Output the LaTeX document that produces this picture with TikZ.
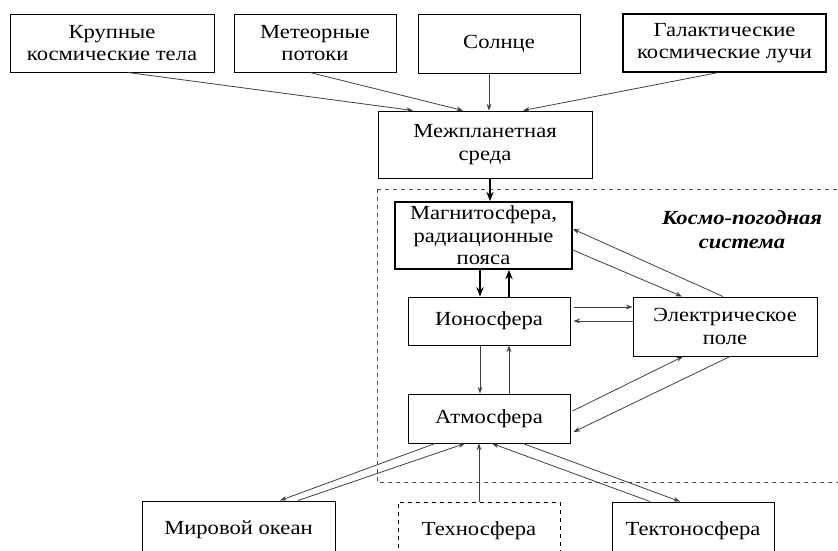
\documentclass[tikz,border=0pt]{standalone}
\usepackage{fontspec}
\setmainfont{Liberation Serif}[FakeStretch=1.13]
\usetikzlibrary{arrows.meta,calc}

\tikzset{every picture/.style={line width=0.75pt}}
\tikzset{
  blk/.style={draw, rectangle, inner sep=0pt, align=center, font=\fontsize{15}{16.8}\selectfont},
  conn/.style={draw=black!75, line width=0.6pt, -{Stealth[length=5pt,width=3.6pt]}},
  bold conn/.style={draw=black, line width=1.3pt, -{Stealth[length=7pt,width=5.5pt]}}
}

\begin{document}
\begin{tikzpicture}[x=0.75pt,y=0.75pt,yscale=-1,xscale=1]
\useasboundingbox (0,0) rectangle (838,550);

% Dashed frame
\draw [dashed, draw=black!70, line width=0.6pt] (377,189) -- (845,189) (377,189) -- (377,482) -- (845,482);

% Text Node
\node [blk, minimum width=153pt, minimum height=43.5pt] (krup) at (112,43) {Крупные\\космические тела};
% Text Node
\node [blk, minimum width=121.5pt, minimum height=43.5pt] (meteor) at (315,43) {Метеорные\\потоки};
% Text Node
\node [blk, minimum width=121.5pt, minimum height=44.25pt] (sun) at (499,43.5) {Солнце};
% Text Node
\node [blk, line width=1.2pt, minimum width=152.25pt, minimum height=43.5pt] (galact) at (724.5,43) {Галактические\\космические лучи};
% Text Node
\node [blk, minimum width=160.5pt, minimum height=50.25pt] (inter) at (485,144.5) {Межпланетная\\среда};
% Text Node
\node [blk, line width=1.3pt, minimum width=132.75pt, minimum height=50.25pt] (mag) at (483.5,235.5) {Магнитосфера,\\радиационные\\пояса};
% Text Node
\node [blk, minimum width=121.5pt, minimum height=36pt] (iono) at (489,321) {Ионосфера};
% Text Node
\node [blk, minimum width=138pt, minimum height=44.25pt] (elec) at (725,326.5) {Электрическое\\поле};
% Text Node
\node [blk, minimum width=121.5pt, minimum height=36.75pt] (atm) at (489,418.5) {Атмосфера};
% Text Node
\node [blk, minimum width=144.75pt, minimum height=43.5pt] (ocean) at (238.5,530) {Мировой океан};
% Text Node
\node [blk, dashed, minimum width=121.5pt, minimum height=43.5pt] (techno) at (479,531) {Техносфера};
% Text Node
\node [blk, minimum width=121.5pt, minimum height=43.5pt] (tecto) at (693,531) {Тектоносфера};
% Text Node
\node [align=center, inner sep=0pt, font=\fontsize{15}{18}\selectfont\bfseries\itshape] (title) at (742,230) {Космо-погодная\\система};

% Connection
\draw [conn] ($(krup.south)+(16,0)$) -- ($(inter.north)+(-72,0)$);
\draw [conn] ($(meteor.south)+(-5,0)$) -- ($(inter.north)+(-22,0)$);
\draw [conn] ($(sun.south)+(-10,0)$) -- ($(inter.north)+(4,0)$);
\draw [conn] ($(galact.south)+(-7.5,0)$) -- ($(inter.north)+(38,0)$);
% Connection
\draw [bold conn] ($(inter.south)+(5,0)$) -- ($(mag.north)+(6.5,0)$);
\draw [bold conn] ($(mag.south)+(-3.5,0)$) -- ($(iono.north)+(-9,0)$);
\draw [bold conn] ($(iono.north)+(20,0)$) -- ($(mag.south)+(25.5,0)$);
% Connection
\draw [conn] ($(mag.east)+(0,14.5)$) -- ($(elec.north)+(-43,0)$);
\draw [conn] ($(elec.north)+(-2,0)$) -- ($(mag.east)+(0,-6.5)$);
\draw [conn] ($(iono.east)+(3,-14)$) -- ($(elec.west)+(0,-19.5)$);
\draw [conn] ($(elec.west)+(0,-5.5)$) -- ($(iono.east)+(3,0)$);
% Connection
\draw [conn] ($(iono.south)+(-9,0)$) -- ($(atm.north)+(-9,0)$);
\draw [conn] ($(atm.north)+(20,0)$) -- ($(iono.south)+(20,0)$);
\draw [conn] ($(atm.east)+(2,-7.5)$) -- ($(elec.south)+(-42,0)$);
\draw [conn] ($(elec.south)+(5,0)$) -- ($(atm.east)+(3,13.5)$);
% Connection
\draw [conn] ($(atm.south)+(-54,0)$) -- ($(ocean.north)+(41.5,0)$);
\draw [conn] ($(ocean.north)+(59.5,0)$) -- ($(atm.south)+(-24,0)$);
\draw [conn] (techno.north) -- ($(atm.south)+(-10,0)$);
\draw [conn] ($(tecto.north)+(-43,0)$) -- ($(atm.south)+(3,0)$);
\draw [conn] ($(atm.south)+(34,0)$) -- ($(tecto.north)+(-13,0)$);

\end{tikzpicture}
\end{document}
